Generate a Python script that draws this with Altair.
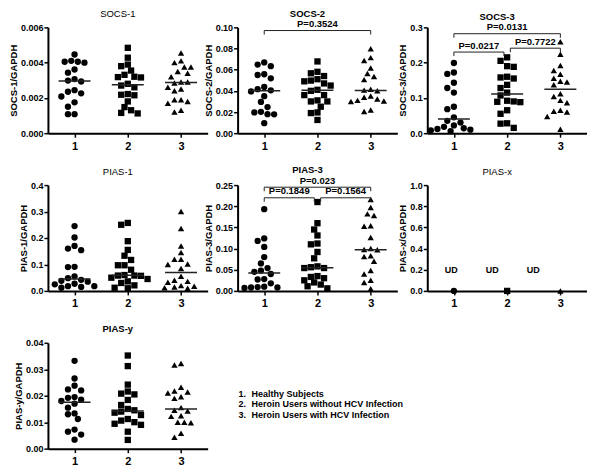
import altair as alt
import pandas as pd

FONT = "Liberation Sans"

# ---------------- data ----------------
groups = [1, 2, 3]
group_shapes = ["circle", "square", "triangle-up"]

socs1_g1 = [0.00446, 0.00410, 0.00405, 0.00405, 0.00400, 0.00361, 0.00343, 0.00307, 0.00298,
            0.00293, 0.00244, 0.00235, 0.00226, 0.00208, 0.00175, 0.00150, 0.00108, 0.00108]
socs1_g2 = [0.00484, 0.00428, 0.00389, 0.00380, 0.00355, 0.00331, 0.00320, 0.00318, 0.00316, 0.00280,
            0.00270, 0.00260, 0.00222, 0.00218, 0.00215, 0.00180, 0.00148, 0.00130, 0.00115, 0.00112]
socs1_g3 = [0.00455, 0.00410, 0.00400, 0.00375, 0.00375, 0.00350, 0.00340, 0.00320, 0.00290, 0.00290,
            0.00285, 0.00260, 0.00250, 0.00240, 0.00190, 0.00190, 0.00180, 0.00170, 0.00130, 0.00120]

socs2_g1 = [0.0669, 0.0648, 0.0633, 0.0557, 0.0550, 0.0518, 0.0437, 0.0416, 0.0405,
            0.0395, 0.0350, 0.0295, 0.0247, 0.0202, 0.0196, 0.0180, 0.0178, 0.0095]
socs2_g2 = [0.0678, 0.0580, 0.0566, 0.0540, 0.0510, 0.0497, 0.0490, 0.0470, 0.0450, 0.0410,
            0.0400, 0.0360, 0.0360, 0.0310, 0.0300, 0.0300, 0.0250, 0.0196, 0.0190, 0.0125]
socs2_g3 = [0.0798, 0.0714, 0.0687, 0.0617, 0.0563, 0.0536, 0.0506, 0.0416, 0.0407,
            0.0400, 0.0352, 0.0340, 0.0322, 0.0310, 0.0305, 0.0300, 0.0220, 0.0205]

socs3_g1 = [0.199, 0.172, 0.168, 0.143, 0.128, 0.115, 0.075, 0.068, 0.045,
            0.035, 0.030, 0.022, 0.018, 0.014, 0.012, 0.010, 0.008, 0.006]
socs3_g2 = [0.215, 0.205, 0.190, 0.188, 0.160, 0.158, 0.155, 0.137, 0.128, 0.115,
            0.107, 0.092, 0.090, 0.089, 0.088, 0.065, 0.055, 0.028, 0.027, 0.015]
socs3_g3 = [0.259, 0.224, 0.192, 0.178, 0.167, 0.156, 0.147, 0.145, 0.137,
            0.112, 0.104, 0.093, 0.086, 0.065, 0.062, 0.060, 0.047, 0.011]

pias1_g1 = [0.245, 0.202, 0.170, 0.160, 0.154, 0.091, 0.090, 0.055, 0.048,
            0.042, 0.038, 0.035, 0.027, 0.025, 0.018, 0.018, 0.015, 0.012]
pias1_g2 = [0.257, 0.250, 0.188, 0.155, 0.133, 0.117, 0.097, 0.097, 0.080, 0.060,
            0.058, 0.058, 0.057, 0.050, 0.045, 0.036, 0.030, 0.021, 0.012, 0.010]
pias1_g3 = [0.300, 0.236, 0.170, 0.145, 0.120, 0.120, 0.102, 0.100, 0.085,
            0.055, 0.040, 0.036, 0.033, 0.020, 0.018, 0.015, 0.012, 0.010]

pias3_g1 = [0.193, 0.124, 0.118, 0.104, 0.080, 0.065, 0.054, 0.048, 0.045,
            0.040, 0.028, 0.027, 0.018, 0.010, 0.009, 0.008, 0.008, 0.007]
pias3_g2 = [0.210, 0.160, 0.145, 0.131, 0.112, 0.110, 0.092, 0.077, 0.058, 0.056,
            0.054, 0.054, 0.035, 0.033, 0.030, 0.025, 0.020, 0.015, 0.011, 0.006]
pias3_g3 = [0.216, 0.197, 0.182, 0.178, 0.154, 0.153, 0.126, 0.100, 0.098,
            0.097, 0.083, 0.081, 0.070, 0.048, 0.040, 0.025, 0.020, 0.005]

piasx_g1 = [0.0]
piasx_g2 = [0.0]
piasx_g3 = [0.0]
ud_groups = [1, 2, 3]
ud_labels = ["UD", "UD", "UD"]

piasy_g1 = [0.0332, 0.0265, 0.0238, 0.0224, 0.0220, 0.0195, 0.0192, 0.0185, 0.0180,
            0.0170, 0.0155, 0.0133, 0.0130, 0.0112, 0.0072, 0.0064, 0.0053, 0.0034]
piasy_g2 = [0.0352, 0.0312, 0.0242, 0.0216, 0.0208, 0.0205, 0.0184, 0.0165, 0.0150, 0.0145,
            0.0140, 0.0136, 0.0127, 0.0112, 0.0106, 0.0100, 0.0094, 0.0090, 0.0064, 0.0033]
piasy_g3 = [0.0322, 0.0316, 0.0232, 0.0218, 0.0214, 0.0210, 0.0196, 0.0190, 0.0155,
            0.0145, 0.0142, 0.0124, 0.0122, 0.0100, 0.0100, 0.0098, 0.0058, 0.0043]

panel_names = ["SOCS-1", "SOCS-2", "SOCS-3", "PIAS-1", "PIAS-3", "PIAS-x", "PIAS-y"]
panel_series = {
    "SOCS-1": [socs1_g1, socs1_g2, socs1_g3],
    "SOCS-2": [socs2_g1, socs2_g2, socs2_g3],
    "SOCS-3": [socs3_g1, socs3_g2, socs3_g3],
    "PIAS-1": [pias1_g1, pias1_g2, pias1_g3],
    "PIAS-3": [pias3_g1, pias3_g2, pias3_g3],
    "PIAS-x": [piasx_g1, piasx_g2, piasx_g3],
    "PIAS-y": [piasy_g1, piasy_g2, piasy_g3],
}
y_ticks = {
    "SOCS-1": [0.000, 0.002, 0.004, 0.006],
    "SOCS-2": [0.00, 0.02, 0.04, 0.06, 0.08, 0.10],
    "SOCS-3": [0.0, 0.1, 0.2, 0.3],
    "PIAS-1": [0.0, 0.1, 0.2, 0.3, 0.4],
    "PIAS-3": [0.00, 0.05, 0.10, 0.15, 0.20, 0.25],
    "PIAS-x": [0.0, 0.2, 0.4, 0.6, 0.8, 1.0],
    "PIAS-y": [0.00, 0.01, 0.02, 0.03, 0.04],
}
y_formats = {"SOCS-1": ".3f", "SOCS-2": ".2f", "SOCS-3": ".1f", "PIAS-1": ".1f",
             "PIAS-3": ".2f", "PIAS-x": ".1f", "PIAS-y": ".2f"}

bracket_panel = ["SOCS-2", "SOCS-3", "SOCS-3", "SOCS-3", "PIAS-3", "PIAS-3", "PIAS-3"]
bracket_from = [1, 1, 1, 2, 1, 1, 2]
bracket_to = [3, 3, 2, 3, 3, 2, 3]
bracket_level = [0.097, 0.282, 0.230, 0.241, 0.245, 0.220, 0.220]
bracket_label = ["P=0.3524", "P=0.0131", "P=0.0217", "P=0.7722", "P=0.023", "P=0.1849", "P=0.1564"]

legend_numbers = ["1.", "2.", "3."]
legend_labels = ["Healthy Subjects", "Heroin Users without HCV Infection",
                 "Heroin Users with HCV Infection"]

# ---------------- layout / style ----------------
PW, PH = 160, 106
XDOM = [0.5, 3.5]
PX_PER_UNIT = PW / (XDOM[1] - XDOM[0])
DIAM = 6.6
bold_titles = {"SOCS-2", "SOCS-3", "PIAS-3", "PIAS-y"}
bracket_panels = set(bracket_panel)


def spread(values, ymax):
    """Beeswarm-style column scatter: each point takes the free slot nearest the centre."""
    ypx = [v / ymax * PH for v in values]
    order = sorted(range(len(values)), key=lambda i: -values[i])
    cands = [0.0]
    for k in range(1, 12):
        cands += [-k * 0.5, k * 0.5]
    placed = []
    offs = [0.0] * len(values)
    for i in order:
        for c in cands:
            cx = c * DIAM
            if all((cx - px) ** 2 + (ypx[i] - py) ** 2 >= (DIAM * 0.97) ** 2 for px, py in placed):
                break
        placed.append((cx, ypx[i]))
        offs[i] = cx / PX_PER_UNIT
    return offs


def make_panel(name):
    ymax = y_ticks[name][-1]
    rows = []
    for g, vals in zip(groups, panel_series[name]):
        for v, o in zip(vals, spread(vals, ymax)):
            rows.append({"group": g, "value": v, "xpos": g + o})
    df = pd.DataFrame(rows)
    xscale = alt.Scale(domain=XDOM, nice=False, zero=False)
    yscale = alt.Scale(domain=[0, ymax], nice=False)
    xaxis = alt.Axis(values=groups, format="d", title=None, labelFontSize=11,
                     tickSize=4, labelPadding=3)
    yaxis = alt.Axis(values=y_ticks[name], format=y_formats[name],
                     title=f"{name}/GAPDH", labelFontSize=9, titleFontSize=9.5,
                     titlePadding=2, tickSize=4, labelPadding=1)

    def X(field):
        return alt.X(field, scale=xscale, axis=xaxis, title=None)

    def Y(field):
        return alt.Y(field, scale=yscale, axis=yaxis, title=f"{name}/GAPDH")

    pts = alt.Chart(df).mark_point(filled=True, opacity=1, size=40, color="black").encode(
        x=X("xpos:Q"), y=Y("value:Q"),
        shape=alt.Shape("group:N", scale=alt.Scale(domain=groups, range=group_shapes), legend=None),
    )
    layers = [pts]

    if name != "PIAS-x":
        med = alt.Chart(df).transform_aggregate(
            med="median(value)", groupby=["group"]
        ).transform_calculate(
            xa="datum.group - 0.3", xb="datum.group + 0.3"
        ).mark_rule(color="#222", strokeWidth=1.5).encode(
            x=X("xa:Q"), x2="xb:Q", y=Y("med:Q"),
        )
        layers.append(med)

    if name in bracket_panels:
        drop = 4.0 / PH * ymax
        segs, labs = [], []
        for p, f, t, lv, lb in zip(bracket_panel, bracket_from, bracket_to, bracket_level, bracket_label):
            if p != name:
                continue
            xa = f + (0.06 if (t - f == 1 and f == 2) else 0.0)
            xb = t - (0.06 if (t - f == 1 and t == 2) else 0.0)
            segs += [{"xa": xa, "xb": xb, "ya": lv, "yb": lv},
                     {"xa": xa, "xb": xa, "ya": lv, "yb": lv - drop},
                     {"xa": xb, "xb": xb, "ya": lv, "yb": lv - drop}]
            labs.append({"xm": (xa + xb) / 2, "level": lv, "label": lb})
        br = alt.Chart(pd.DataFrame(segs)).mark_rule(color="#222", strokeWidth=1).encode(
            x=X("xa:Q"), x2="xb:Q", y=Y("ya:Q"), y2="yb:Q",
        )
        tx = alt.Chart(pd.DataFrame(labs)).mark_text(
            baseline="bottom", dy=-1.5, fontWeight="bold", fontSize=9.5, font=FONT, color="black"
        ).encode(x=X("xm:Q"), y=Y("level:Q"), text="label:N")
        layers += [br, tx]

    if name == "PIAS-x":
        ud = pd.DataFrame({"group": ud_groups, "label": ud_labels})
        udt = alt.Chart(ud).transform_calculate(
            xu="0.95 + 0.77 * (datum.group - 1)", yu="0.2"
        ).mark_text(fontWeight="bold", fontSize=9, font=FONT, color="black", baseline="middle").encode(
            x=X("xu:Q"), y=Y("yu:Q"), text="label:N",
        )
        layers.append(udt)

    return alt.layer(*layers).properties(
        width=PW, height=PH,
        title=alt.TitleParams(
            text=name, fontSize=9.5, font=FONT, color="black", anchor="middle", frame="group",
            dx=-10,
            fontWeight="bold" if name in bold_titles else "normal",
            offset=1 if name in bracket_panels else 5,
        ),
    )


panels = [make_panel(n) for n in panel_names]

leg_df = pd.DataFrame({"num": legend_numbers, "label": legend_labels, "order": [1, 2, 3]})
leg_y = alt.Y("order:Q", axis=None, scale=alt.Scale(domain=[-3.86, 6.24], reverse=True, nice=False))
leg_nums = alt.Chart(leg_df).mark_text(
    align="left", baseline="middle", fontWeight="bold", fontSize=9, font=FONT, color="black"
).encode(x=alt.value(1), y=leg_y, text="num:N")
leg_text = alt.Chart(leg_df).mark_text(
    align="left", baseline="middle", fontWeight="bold", fontSize=9, font=FONT, color="black"
).encode(x=alt.value(14), y=leg_y, text="label:N")
legend_panel = alt.layer(leg_nums, leg_text).properties(width=PW, height=PH)

chart = alt.concat(
    *panels, legend_panel, columns=3, spacing={"row": 52, "column": 30}, bounds="flush"
).properties(padding=0).configure_view(stroke=None).configure_axis(
    domainColor="black", domainWidth=2, tickColor="black", tickWidth=1.5,
    labelColor="black", titleColor="black", labelFont=FONT, titleFont=FONT,
    labelFontWeight="bold", titleFontWeight="bold", grid=False,
)

chart.save("out.html", embed_options={"renderer": "svg", "actions": False})
